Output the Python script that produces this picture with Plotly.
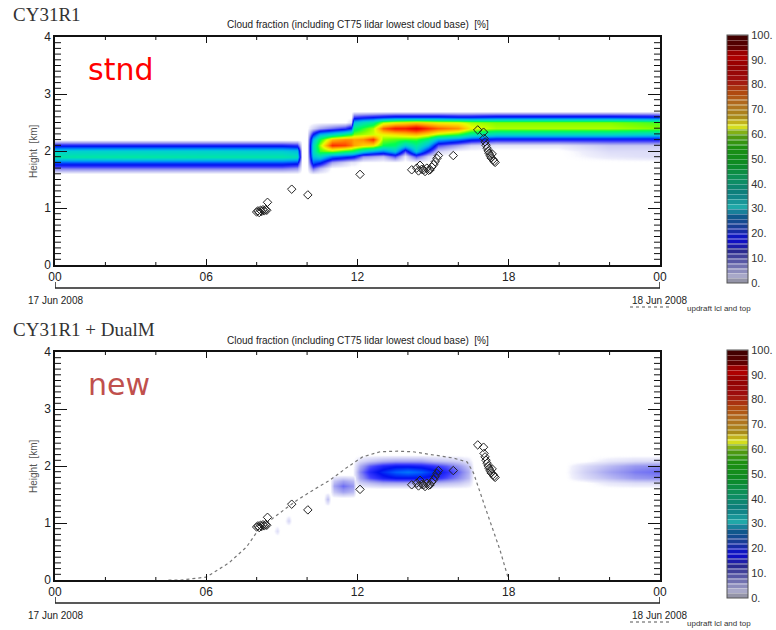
import plotly.graph_objects as go

# ------------------------------------------------------------------ data
hour_ticks = [0, 6, 12, 18, 24]
hour_labels = ["00", "06", "12", "18", "00"]
km_ticks = [0, 1, 2, 3, 4]
cbar_ticks = [0, 10, 20, 30, 40, 50, 60, 70, 80, 90, 100]
cbar_labels = ["0.", "10.", "20.", "30.", "40.", "50.", "60.", "70.", "80.", "90.", "100."]

# ---- stnd (CY31R1): lower cloud layer, 00-10 h
band1_hours = [0, 3, 6, 9, 9.6, 9.8]
band1_km = [1.6, 1.7, 1.8, 1.9, 2.0, 2.1, 2.2]
band1_cols = [  # one column (values per km level) per hour
    [0, 12, 24, 44, 38, 20, 0],
    [0, 12, 24, 45, 38, 20, 0],
    [0, 12, 24, 44, 38, 20, 0],
    [0, 12, 24, 44, 37, 20, 0],
    [0, 10, 22, 42, 35, 18, 0],
    [0, 0, 0, 0, 0, 0, 0],
]

# ---- stnd (CY31R1): upper cloud layer, 10-24 h
band2_hours = [10.0, 10.25, 10.5, 11.0, 11.5, 11.75, 11.85, 12.2, 12.6, 13.0, 13.5,
               13.9, 14.3, 14.8, 15.2, 16.0, 16.5, 17.5, 20.0, 22.0, 24.0]
band2_km = [1.6, 1.7, 1.8, 1.9, 2.0, 2.1, 2.2, 2.3, 2.4, 2.5, 2.6, 2.7]
band2_cols = [
    [0, 0, 0, 0, 0, 0, 0, 0, 0, 0, 0, 0],
    [0, 12, 26, 36, 40, 40, 34, 20, 4, 0, 0, 0],
    [0, 6, 22, 40, 55, 60, 52, 34, 8, 0, 0, 0],
    [0, 0, 8, 28, 58, 82, 70, 40, 12, 0, 0, 0],
    [0, 0, 4, 24, 52, 80, 74, 48, 16, 0, 0, 0],
    [0, 0, 2, 22, 50, 76, 74, 52, 22, 3, 0, 0],
    [0, 0, 2, 20, 48, 72, 72, 58, 48, 35, 16, 0],
    [0, 0, 0, 10, 38, 68, 74, 60, 54, 42, 18, 0],
    [0, 0, 0, 8, 32, 66, 82, 62, 60, 46, 20, 0],
    [0, 0, 0, 6, 28, 52, 58, 64, 78, 60, 22, 0],
    [0, 0, 0, 14, 36, 50, 56, 66, 84, 64, 24, 0],
    [0, 0, 0, 2, 14, 38, 55, 68, 84, 66, 24, 0],
    [0, 0, 0, 14, 36, 46, 55, 70, 88, 68, 24, 0],
    [0, 0, 0, 4, 18, 34, 48, 66, 82, 66, 24, 0],
    [0, 0, 0, 0, 4, 14, 34, 60, 78, 64, 24, 0],
    [0, 0, 0, 0, 0, 8, 28, 54, 74, 63, 22, 0],
    [0, 0, 0, 0, 0, 4, 22, 45, 64, 60, 22, 0],
    [0, 0, 0, 0, 0, 2, 18, 40, 60, 58, 24, 0],
    [0, 0, 0, 0, 0, 2, 18, 40, 60, 58, 24, 0],
    [0, 0, 0, 2, 3, 5, 18, 40, 60, 58, 24, 0],
    [0, 0, 0, 3, 3, 5, 18, 38, 58, 55, 22, 0],
]

# ---- new (CY31R1 + DualM): cloud patches
main_hours = [11.8, 12.1, 12.5, 13.0, 13.5, 14.0, 14.5, 15.0, 15.5, 16.0, 16.4, 16.6]
main_km = [1.6, 1.7, 1.8, 1.9, 2.0, 2.1, 2.2]
main_cols = [
    [0, 0, 0, 0, 0, 0, 0],
    [0, 4, 8, 10, 7, 3, 0],
    [0, 6, 14, 17, 13, 5, 0],
    [0, 8, 18, 22, 17, 7, 0],
    [0, 8, 20, 26, 19, 8, 0],
    [0, 8, 20, 28, 19, 8, 0],
    [0, 8, 20, 26, 18, 8, 0],
    [0, 7, 18, 22, 16, 6, 0],
    [0, 6, 14, 17, 13, 5, 0],
    [0, 5, 10, 12, 9, 4, 0],
    [0, 3, 6, 7, 5, 2, 0],
    [0, 0, 0, 0, 0, 0, 0],
]
side_hours = [10.9, 11.05, 11.4, 11.8, 11.95]
side_km = [1.45, 1.55, 1.65, 1.75, 1.85]
side_cols = [
    [0, 0, 0, 0, 0],
    [0, 5, 8, 5, 0],
    [0, 8, 12, 8, 0],
    [0, 6, 9, 6, 0],
    [0, 0, 0, 0, 0],
]
dotA_hours = [10.65, 10.8, 10.95]
dotA_km = [1.3, 1.42, 1.55]
dotA_cols = [[0, 0, 0], [0, 6, 0], [0, 0, 0]]
dotB_hours = [9.1, 9.25, 9.4]
dotB_km = [0.95, 1.05, 1.15]
dotB_cols = [[0, 0, 0], [0, 4, 0], [0, 0, 0]]
dotC_hours = [8.65, 8.8, 8.95]
dotC_km = [0.77, 0.87, 0.97]
dotC_cols = [[0, 0, 0], [0, 3, 0], [0, 0, 0]]
late_hours = [20.2, 21.0, 22.0, 23.0, 24.0]
late_km = [1.6, 1.7, 1.8, 1.9, 2.0, 2.1, 2.2]
late_cols = [
    [0, 0, 0, 0, 0, 0, 0],
    [0, 0, 3, 4, 3, 0, 0],
    [0, 2, 6, 8, 6, 2, 0],
    [0, 3, 9, 11, 9, 3, 0],
    [0, 3, 10, 12, 10, 3, 0],
]

# ---- CT75 lidar lowest cloud base (both panels)
lidar_hours = [8.00, 8.05, 8.10, 8.15, 8.20, 8.25, 8.30, 8.35, 8.40, 8.43, 9.39, 10.03,
               12.10, 14.15, 14.35, 14.42, 14.48, 14.55, 14.62, 14.68, 14.75, 14.82, 14.88,
               14.95, 15.02, 15.08, 15.15, 15.21, 15.80, 16.77, 17.00, 17.02, 17.06, 17.10,
               17.14, 17.18, 17.22, 17.26, 17.30, 17.34, 17.38, 17.42, 17.46]
lidar_km = [0.93, 0.95, 0.92, 0.96, 0.94, 0.97, 0.95, 0.97, 0.96, 1.10, 1.33, 1.23,
            1.59, 1.67, 1.70, 1.65, 1.75, 1.68, 1.67, 1.64, 1.70, 1.66, 1.67,
            1.72, 1.76, 1.81, 1.87, 1.92, 1.92, 2.37, 2.33, 2.22, 2.16, 2.10,
            2.05, 2.00, 1.96, 1.92, 1.88, 1.95, 1.85, 1.82, 1.80]

# ---- updraft lcl and top (new panel)
updraft_hours = [4.5, 5.0, 6.0, 6.9, 7.6, 8.1, 8.9, 9.6, 10.25, 10.9, 11.6, 12.2, 12.9,
                 13.6, 14.2, 15.0, 15.8, 16.35, 16.6, 17.1, 17.65, 18.0]
updraft_km = [0.0, 0.0, 0.05, 0.3, 0.58, 0.9, 1.17, 1.4, 1.58, 1.75, 1.98, 2.16, 2.25,
              2.26, 2.25, 2.19, 2.14, 2.07, 1.88, 1.23, 0.53, 0.0]

# ------------------------------------------------------------------ styling
W, H = 776, 630


def px(x):
    return x / W


def py(y):
    return 1 - y / H


FIELD_CS = [
    [0.0, "rgba(255,255,255,0)"], [0.012, "rgba(240,240,252,1)"], [0.05, "#c8c8f4"],
    [0.10, "#8c8cf0"], [0.15, "#3a3aff"], [0.20, "#0010f0"], [0.26, "#0060ff"],
    [0.32, "#00a8f0"], [0.38, "#00d0d0"], [0.45, "#00e8a0"], [0.52, "#00ff50"],
    [0.58, "#80ff00"], [0.63, "#e8ff00"], [0.68, "#ffd000"], [0.74, "#ff9000"],
    [0.80, "#ff4000"], [0.86, "#f00000"], [0.93, "#c00000"], [1.0, "#600000"],
]

CB_ANCHORS = [
    (0.0, "#8a8a98"), (0.03, "#a8a8c8"), (0.08, "#6464aa"), (0.13, "#2a2a90"),
    (0.18, "#0a0ad0"), (0.22, "#1a3898"), (0.27, "#10588c"), (0.31, "#20a8a8"),
    (0.36, "#0e7c80"), (0.42, "#0e9060"), (0.48, "#0c8a24"), (0.55, "#1e9010"),
    (0.60, "#5a9a10"), (0.635, "#e8e820"), (0.66, "#a89018"), (0.72, "#b07020"),
    (0.77, "#b04a10"), (0.82, "#a01010"), (0.88, "#900000"), (0.92, "#b80000"),
    (0.95, "#600000"), (1.0, "#3c0000"),
]


def _rgb(h):
    h = h.lstrip("#")
    return [int(h[i:i + 2], 16) for i in (0, 2, 4)]


def _interp(t):
    for (t0, c0), (t1, c1) in zip(CB_ANCHORS[:-1], CB_ANCHORS[1:]):
        if t0 <= t <= t1:
            f = (t - t0) / (t1 - t0) if t1 > t0 else 0
            a, b = _rgb(c0), _rgb(c1)
            return [a[i] + (b[i] - a[i]) * f for i in range(3)]
    return _rgb(CB_ANCHORS[-1][1])


def _css(c, light=0.0):
    c = [int(round(v + (255 - v) * light)) for v in c]
    return "rgb(%d,%d,%d)" % tuple(c)


CB_CS = []
NB = 50
for i in range(NB):
    c = _interp((i + 0.5) / NB)
    a, m, b = i / NB, (i + 0.72) / NB, (i + 1) / NB
    CB_CS += [[a, _css(c)], [m, _css(c)], [m, _css(c, 0.3)], [b, _css(c, 0.3)]]
CB_CS[0][0] = 0.0
CB_CS[-1][0] = 1.0

FONT = "Liberation Sans, Arial, sans-serif"
AX = "#111111"

# minor tick positions and lengths (axis decoration)
x_minor = [h for h in range(0, 25, 2) if h % 6]
y_minor = [k / 10 for k in range(0, 41) if k % 10]
PLOT_W, PLOT_H = 605.0, 228.0
dx_tick = 6 * 24 / PLOT_W      # 6 px expressed in hours
dy_tick = 3 * 4 / PLOT_H       # 3 px expressed in km
tick_x, tick_y = [], []
for k in y_minor:
    tick_x += [0, dx_tick, None, 24 - dx_tick, 24, None]
    tick_y += [k, k, None, k, k, None]
for h in x_minor:
    tick_x += [h, h, None, h, h, None]
    tick_y += [0, dy_tick, None, 4 - dy_tick, 4, None]


def transpose(cols):
    return [list(r) for r in zip(*cols)]


fig = go.Figure()


def field(hours, km, cols, xa, ya):
    fig.add_trace(go.Heatmap(
        x=hours, y=km, z=transpose(cols), zmin=0, zmax=100, colorscale=FIELD_CS,
        zsmooth="best", showscale=False, hoverinfo="skip", xaxis=xa, yaxis=ya))


# top panel fields
field(band1_hours, band1_km, band1_cols, "x", "y")
field(band2_hours, band2_km, band2_cols, "x", "y")
# bottom panel fields
for hrs, kms, cols in [(main_hours, main_km, main_cols), (side_hours, side_km, side_cols),
                       (dotA_hours, dotA_km, dotA_cols), (dotB_hours, dotB_km, dotB_cols),
                       (dotC_hours, dotC_km, dotC_cols), (late_hours, late_km, late_cols)]:
    field(hrs, kms, cols, "x2", "y2")

# minor tick marks
for xa, ya in [("x", "y"), ("x2", "y2")]:
    fig.add_trace(go.Scatter(x=tick_x, y=tick_y, mode="lines", cliponaxis=False,
                             line=dict(color=AX, width=1), hoverinfo="skip",
                             showlegend=False, xaxis=xa, yaxis=ya))

# updraft line
fig.add_trace(go.Scatter(x=updraft_hours, y=updraft_km, mode="lines",
                         line=dict(color="#777777", width=1.2, dash="dot"),
                         hoverinfo="skip", showlegend=False, xaxis="x2", yaxis="y2"))

# lidar diamonds
for xa, ya in [("x", "y"), ("x2", "y2")]:
    fig.add_trace(go.Scatter(x=lidar_hours, y=lidar_km, mode="markers",
                             marker=dict(symbol="diamond-open", size=6.5, color="#222222",
                                         line=dict(width=1, color="#222222")),
                             hoverinfo="skip", showlegend=False, xaxis=xa, yaxis=ya))

# colour bars (via invisible marker traces)
for xa, ya, ycen in [("x", "y", 159), ("x2", "y2", 474)]:
    fig.add_trace(go.Scatter(
        x=[1, 2], y=[-5, -5], mode="markers", showlegend=False, hoverinfo="skip",
        xaxis=xa, yaxis=ya,
        marker=dict(size=1, color=[0, 100], cmin=0, cmax=100, colorscale=CB_CS,
                    showscale=True,
                    colorbar=dict(x=px(727), xanchor="left", y=py(ycen), yanchor="middle",
                                  len=248 / H, lenmode="fraction", thickness=21,
                                  thicknessmode="pixels", outlinewidth=1,
                                  outlinecolor="#555555", tickvals=cbar_ticks,
                                  ticktext=cbar_labels, ticks="", xpad=0, ypad=0,
                                  tickfont=dict(family=FONT, size=11, color="#333333")))))

xax = dict(range=[0, 24], tickmode="array", tickvals=hour_ticks, ticktext=hour_labels,
           ticks="inside", ticklen=6, tickwidth=1, tickcolor=AX, showline=True,
           linecolor=AX, linewidth=1.5, mirror="ticks", showgrid=False, zeroline=False,
           automargin=False,
           tickfont=dict(family=FONT, size=12, color="#222222"),
           domain=[px(55), px(660)], fixedrange=True)
yax = dict(range=[0, 4], tickmode="array", tickvals=km_ticks,
           ticktext=[str(k) for k in km_ticks],
           ticks="inside", ticklen=12, tickwidth=1, tickcolor=AX, showline=True,
           linecolor=AX, linewidth=1.5, mirror="ticks", showgrid=False, zeroline=False,
           automargin=False,
           tickfont=dict(family=FONT, size=12, color="#222222"), fixedrange=True)

fig.update_layout(
    template="none",
    width=W, height=H, margin=dict(l=0, r=0, t=0, b=0, pad=0, autoexpand=False),
    paper_bgcolor="white", plot_bgcolor="white", showlegend=False,
    xaxis=dict(xax, anchor="y"),
    yaxis=dict(yax, anchor="x", domain=[py(265), py(37)]),
    xaxis2=dict(xax, anchor="y2"),
    yaxis2=dict(yax, anchor="x2", domain=[py(580), py(352)]),
)

shapes = []
annotations = []
for off, xr, name, tag, tagcol in [(0, "x", "CY31R1", "stnd", "#ff0000"),
                                   (315, "x2", "CY31R1 + DualM", "new", "#c0504d")]:
    # date axis
    shapes.append(dict(type="line", xref=xr, yref="paper", x0=0, x1=24,
                       y0=py(288 + off), y1=py(288 + off),
                       line=dict(color="#222222", width=1.5)))
    for xv in (0, 24):
        shapes.append(dict(type="line", xref=xr, yref="paper", x0=xv, x1=xv,
                           y0=py(288 + off), y1=py(282 + off),
                           line=dict(color="#222222", width=1.5)))
    # legend sample
    shapes.append(dict(type="line", xref="paper", yref="paper", x0=px(630), x1=px(671),
                       y0=py(307 + off), y1=py(307 + off),
                       line=dict(color="#555555", width=1.2, dash="dot")))
    annotations += [
        dict(text=name, x=px(11), y=py(14 + off), xanchor="left", yanchor="middle",
             font=dict(family="Liberation Serif, serif", size=19, color="#333333")),
        dict(text="Cloud fraction (including CT75 lidar lowest cloud base)\u00a0 [%]",
             x=px(358), y=py(25 + off), xanchor="center", yanchor="middle",
             font=dict(family=FONT, size=10, color="#222222")),
        dict(text=tag, x=px(86), y=py(69 + off), xanchor="left", yanchor="middle",
             font=dict(family="DejaVu Sans, sans-serif", size=30, color=tagcol)),
        dict(text="Height\u00a0 [km]", x=px(33), y=py(151 + off), textangle=-90,
             xanchor="center", yanchor="middle",
             font=dict(family=FONT, size=10, color="#555555")),
        dict(text="17 Jun 2008", x=px(56), y=py(300 + off), xanchor="center",
             yanchor="middle", font=dict(family=FONT, size=10, color="#222222")),
        dict(text="18 Jun 2008", x=px(659), y=py(300 + off), xanchor="center",
             yanchor="middle", font=dict(family=FONT, size=10, color="#222222")),
        dict(text="updraft lcl and top", x=px(685), y=py(308 + off), xanchor="left",
             yanchor="middle", font=dict(family=FONT, size=8, color="#333333")),
    ]

for a in annotations:
    a.update(xref="paper", yref="paper", showarrow=False)

fig.update_layout(shapes=shapes, annotations=annotations)
fig.write_html("out.html")
